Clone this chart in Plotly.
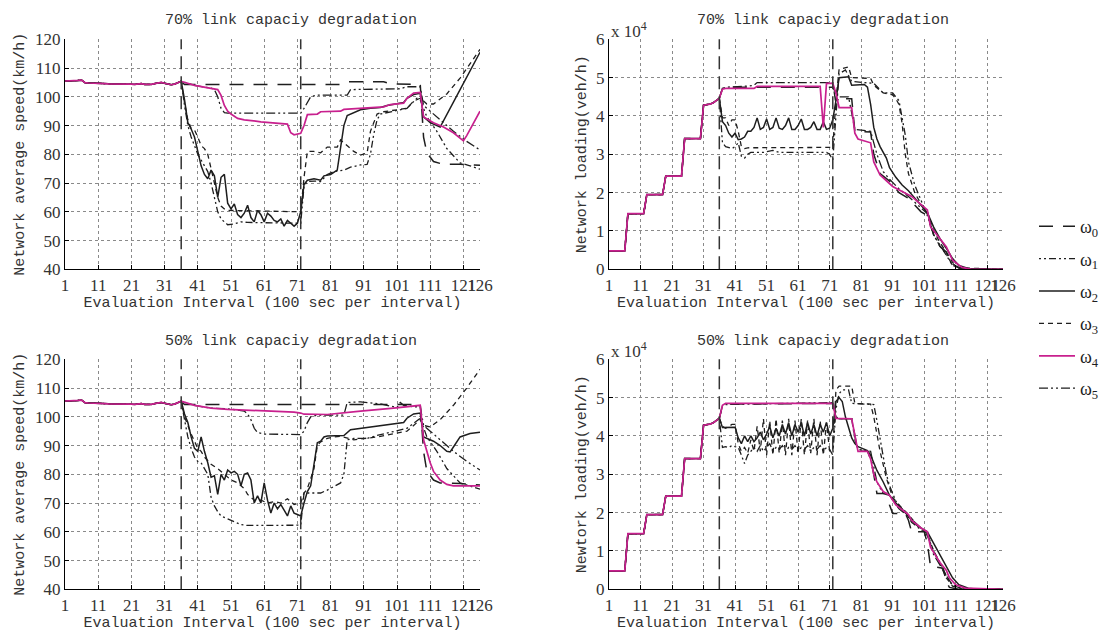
import plotly.graph_objects as go

W, H = 1110, 631
PAGE_OFFSET = 8  # the page body margin shifts the figure by this many pixels

# ---------------- data ----------------
PREFIX_X = [1, 2, 3, 4, 5, 6, 7, 8, 9, 10, 11, 12, 13, 14, 15, 16, 17, 18, 19, 20,
            21, 22, 23, 24, 25, 26, 27, 28, 29, 30, 31, 32, 33, 34, 35]
SPEED_PREFIX = [105.5, 105.5, 105.6, 105.6, 105.7, 105.8, 104.9, 104.8, 104.8, 104.7,
                104.7, 104.6, 104.6, 104.5, 104.5, 104.6, 104.5, 104.4, 104.4, 104.5,
                104.4, 104.3, 104.5, 104.6, 104.3, 104.2, 104.3, 104.6, 104.9, 105.0,
                104.7, 104.4, 104.2, 104.4, 104.9]
LOAD_PREFIX = [0.48, 0.48, 0.48, 0.48, 0.48, 0.48, 1.45, 1.45, 1.45, 1.45,
               1.45, 1.45, 1.95, 1.95, 1.95, 1.95, 1.95, 1.95, 2.43, 2.43,
               2.43, 2.43, 2.43, 2.43, 3.41, 3.41, 3.41, 3.41, 3.41, 3.41,
               4.28, 4.29, 4.31, 4.34, 4.40]

# --- top-left: speed, 70% degradation ---
TL_W0_X = [36, 37, 84, 86, 97, 99, 108, 109, 110, 112, 115, 120, 126]
TL_W0_Y = [105.4, 104.3, 104.3, 105.2, 105.2, 104.5, 104.3, 86, 80.5, 77.5, 76.5, 76.5, 76.2]
TL_W1_X = [36, 37, 38, 39, 40, 41, 42, 43, 44, 45, 46, 47, 48, 49, 50, 52, 54, 56, 60, 65, 70, 72,
           73, 74, 76, 78, 80, 82, 85, 87, 90, 92, 93, 94, 95, 96, 100, 104, 107, 108,
           110, 113, 116, 120, 123, 126]
TL_W1_Y = [105.4, 97, 90, 86, 83, 80, 78, 76, 74, 70, 65, 60, 57.5, 56.5, 55.5, 55.8, 56.5, 56.3, 56.2, 56.1, 56, 56,
           69, 70.5, 70.7, 70.5, 73, 74, 74.5, 75.5, 76.3, 76.5, 80, 87, 92, 94, 95, 96, 99.5, 99,
           93, 88, 82, 77, 76, 74.8]
TL_W2_X = [36, 37, 38, 39, 40, 41, 42, 43, 44, 45, 46, 47, 48, 49, 50, 51, 52, 53, 54, 55,
           56, 57, 58, 59, 60, 61, 62, 63, 64, 65, 66, 67, 68, 69, 70, 71, 72,
           73, 74, 76, 78, 79, 81, 83, 84, 85, 86, 88, 90, 93, 96, 98, 100, 103, 104, 106, 108,
           109, 111, 114, 120, 126]
TL_W2_Y = [105.5, 99, 91, 88.8, 86, 81, 76, 73, 71.5, 74.5, 72.5, 65, 72, 73, 63, 61, 62.7, 59, 58, 59.5,
           62.3, 58, 56.5, 60.5, 59, 56.5, 59.5, 58.5, 57, 56.5, 57.5, 55, 57, 56, 55, 56, 60,
           69.5, 71, 71.5, 71, 72.5, 73, 74.5, 82, 90, 93.5, 94.5, 95.5, 96, 96.3, 97, 97.5, 98, 99.5, 100.8, 101.2,
           93, 91, 89.5, 102.5, 115.5]
TL_W3_X = [36, 37, 38, 39, 40, 41, 42, 43, 44, 45, 46, 47, 48, 49, 50, 72,
           73, 74, 76, 78, 80, 83, 84, 86, 88, 90, 92, 93, 95, 97, 101, 104, 106, 108, 110, 112,
           116, 120, 126]
TL_W3_Y = [105.4, 98, 92, 89, 88.5, 86, 83, 82, 80, 75, 70, 65, 62, 61, 60.5, 60,
           72, 81, 81, 80.5, 82.5, 82.5, 85, 83, 81, 79.7, 80.5, 88, 94, 94.8, 95.5, 96, 98.5, 99.5, 97.5, 97.5,
           101, 106.5, 116.5]
TL_W4_X = [36, 40, 45, 47, 48, 49, 50, 51, 53, 55, 60, 65, 68, 69, 70, 72, 73, 74, 77, 78,
           84, 85, 92, 95, 97, 99, 103, 104, 106, 108, 109, 112, 115, 118, 121, 122, 124, 126]
TL_W4_Y = [105.4, 104, 103, 102.5, 100.5, 97, 95, 94, 92.5, 92, 91.3, 90.8, 90.5, 87.5, 86.8, 87.3, 90, 93.8, 94, 94.8,
           95, 95.6, 96, 96.3, 96.5, 97.3, 97.8, 99.5, 101.3, 101.5, 93, 91, 89.5, 87.5, 84.7, 86.5, 91, 95]
TL_W5_X = [36, 40, 45, 46, 47, 48, 49, 50, 72, 73, 74, 75, 77, 86, 87, 102, 104, 108,
           109, 111, 114, 118, 122, 126]
TL_W5_Y = [105.4, 104, 103, 102.5, 100, 96, 94.5, 94.3, 94.3, 96, 98, 100, 100.6, 100.6, 102.5, 102.8, 103.5, 103.5,
           97, 95, 92, 88, 84.5, 81.5]

# --- bottom-left: speed, 50% degradation ---
BL_W0_X = [36, 37, 108, 109, 110, 112, 114, 120, 126]
BL_W0_Y = [105.4, 104.3, 104.3, 88, 81, 78, 77, 76.8, 76.3]
BL_W1_X = [36, 37, 38, 39, 40, 41, 42, 43, 44, 45, 46, 47, 48, 50, 52, 54, 56, 72,
           73, 74, 76, 78, 80, 82, 84, 85, 86, 88, 92, 95, 100, 104, 108, 109,
           110, 113, 116, 120, 123, 126]
BL_W1_Y = [105.4, 99, 93, 89, 86, 84.5, 84, 82, 80, 72, 69, 67, 65.5, 64.5, 63.5, 62.5, 62.2, 62.3,
           73.5, 73.5, 73.5, 73.5, 74.5, 75.7, 77, 80, 92, 92.5, 92.5, 93.5, 95, 96, 99.5, 96,
           93, 88, 82, 77, 76, 74.8]
BL_W2_X = [36, 37, 38, 39, 40, 41, 42, 43, 44, 45, 46, 47, 48, 49, 50, 51, 52, 53, 54, 55,
           56, 57, 58, 59, 60, 61, 62, 63, 64, 65, 66, 67, 68, 69, 70, 71, 72, 73, 74, 75,
           76, 77, 78, 79, 80, 85, 87, 90, 95, 100, 103, 104, 106, 108,
           109, 112, 114, 116, 117, 118, 120, 123, 126]
BL_W2_Y = [105.5, 101, 98, 93, 89, 88, 93, 88, 84, 79, 79.5, 73, 80, 78, 81.5, 80.5, 81, 80, 76, 80,
           80.5, 78, 70, 72.5, 70, 77, 71, 66.5, 70, 68, 69.5, 67.5, 65.5, 69, 66.5, 66, 65.5, 70, 74, 76,
           83, 91, 91.5, 93, 93.3, 93.5, 95.5, 96, 96.8, 97.5, 98, 99.5, 101, 101.3,
           93, 91.5, 90, 88, 87.8, 89.5, 93, 94.2, 94.6]
BL_W3_X = [36, 37, 39, 41, 42, 43, 45, 47, 49, 51, 53, 55, 56, 58, 60, 62, 64, 66, 68, 70,
           72, 73, 74, 76, 77, 78, 80, 82, 84, 86, 88, 95, 100, 104, 106, 108, 109, 111, 114, 118,
           122, 126]
BL_W3_Y = [105.4, 100, 94, 89, 88, 86, 83.5, 82, 80, 78, 77, 75, 73, 71, 71, 70, 70.5, 70, 71.5, 69.5,
           70, 73.5, 75, 82, 90, 91.3, 92.5, 93, 93.2, 92.5, 92, 93, 94.2, 95, 97, 99, 97, 96.5, 99, 104,
           110, 116.5]
BL_W4_X = [36, 40, 45, 50, 60, 70, 72, 73, 80, 85, 90, 100, 105, 108, 109, 110, 111, 112, 114, 116, 118, 126]
BL_W4_Y = [105.4, 104, 103, 102.6, 102.2, 101.6, 101.3, 100.9, 100.8, 101.5, 102, 103, 103.5, 104,
           92, 87.5, 84, 81, 78, 76.5, 76, 76]
BL_W5_X = [36, 40, 45, 50, 55, 56, 57, 58, 59, 61, 72, 73, 74, 75, 77, 85, 86, 90, 96, 101, 102, 103, 106, 108,
           109, 111, 114, 118, 122, 126]
BL_W5_Y = [105.4, 104, 103, 102.8, 102, 101, 99, 96, 94.5, 94, 93.8, 95, 98, 100, 100.6, 100.6, 105, 105.2, 104.5,
           103.2, 105, 104, 103.5, 103.5, 97, 95, 92, 88, 84.5, 81.5]

# --- top-right: loading (x 10^4 veh/h), 70% degradation ---
TR_W0_X = [36, 37, 38, 72, 73, 74, 78, 79, 84, 85, 87, 90, 93, 96, 100, 102, 104, 106, 108, 110, 112, 115, 126]
TR_W0_Y = [4.46, 4.72, 4.75, 4.75, 4.6, 4.45, 4.45, 3.6, 3.58, 3.0, 2.5, 2.3, 2.0, 1.85, 1.5, 1.4, 0.9, 0.6,
           0.45, 0.15, 0.03, 0, 0]
TR_W1_X = [36, 37, 38, 40, 41, 42, 43, 44, 45, 46, 50, 53, 55, 60, 65, 70, 71, 72, 73, 74,
           76, 78, 85, 88, 91, 93, 95, 96, 98, 100, 102, 104, 106, 108, 110, 113, 126]
TR_W1_Y = [4.46, 3.3, 3.2, 3.15, 3.2, 3.3, 2.95, 2.9, 3.0, 3.05, 3.05, 3.1, 3.05, 3.05, 3.05, 3.05, 3.0, 2.85, 4.0, 5.1,
           5.2, 4.9, 4.85, 4.6, 4.6, 4.4, 3.5, 2.8, 2.2, 1.8, 1.4, 0.9, 0.6, 0.4, 0.1, 0.02, 0]
TR_W2_X = [36, 37, 38, 39, 40, 41, 42, 43, 44, 45, 46, 47, 48, 49, 50, 51, 52, 53, 54, 55,
           56, 57, 58, 59, 60, 61, 62, 63, 64, 65, 66, 67, 68, 69, 70, 71, 72,
           73, 74, 77, 78, 82, 83, 84, 85, 86, 87, 89, 90, 92, 94, 96, 98, 100, 102, 104, 106,
           108, 110, 112, 115, 126]
TR_W2_Y = [4.46, 3.85, 3.75, 3.55, 3.45, 3.55, 3.38, 3.4, 3.45, 3.6, 3.6, 3.7, 3.95, 3.65, 3.7, 3.92, 3.65, 3.7, 3.95, 3.68,
           3.65, 3.75, 3.95, 3.65, 3.65, 3.75, 3.92, 3.65, 3.65, 3.7, 3.85, 3.65, 3.65, 3.85, 3.65, 3.68, 3.9,
           4.4, 5.0, 5.02, 4.8, 4.82, 4.75, 4.3, 3.7, 3.4, 3.2, 2.9, 2.65, 2.4, 2.2, 2.05, 1.85, 1.65, 1.48, 1.1, 0.8,
           0.55, 0.28, 0.1, 0.02, 0]
TR_W3_X = [36, 37, 38, 39, 40, 41, 42, 43, 44, 45, 72, 73, 74, 77, 78, 84, 85, 88, 91, 92,
           93, 94, 95, 96, 98, 100, 102, 104, 106, 108, 110, 112, 126]
TR_W3_Y = [4.46, 3.95, 3.95, 3.75, 3.9, 3.9, 3.6, 3.2, 3.15, 3.17, 3.18, 4.4, 5.22, 5.28, 5.0, 4.98, 4.8, 4.6, 4.55, 4.45,
           4.3, 3.8, 3.0, 2.5, 2.0, 1.7, 1.5, 1.0, 0.7, 0.45, 0.18, 0.04, 0]
TR_W4_X = [36, 37, 38, 47, 48, 68, 69, 70, 72, 73, 74, 78, 79, 80, 84, 85, 87, 91, 97, 102, 103, 108, 110, 113, 116, 126]
TR_W4_Y = [4.46, 4.7, 4.72, 4.72, 4.77, 4.77, 3.7, 4.85, 4.85, 4.6, 4.22, 4.22, 3.55, 3.4, 3.3, 2.8, 2.46, 2.16, 1.9,
           1.55, 1.11, 0.59, 0.24, 0.05, 0, 0]
TR_W5_X = [36, 37, 38, 45, 47, 48, 72, 73, 74, 77, 79, 84, 86, 88, 90, 93, 96, 100, 102, 104, 107, 110, 113, 126]
TR_W5_Y = [4.46, 4.72, 4.75, 4.78, 4.8, 4.87, 4.87, 4.3, 4.5, 4.5, 3.65, 3.6, 3.0, 2.55, 2.35, 2.1, 1.9, 1.6, 1.45,
           0.9, 0.5, 0.1, 0.02, 0]

# --- bottom-right: loading (x 10^4 veh/h), 50% degradation ---
BR_W0_X = [36, 37, 38, 72, 73, 74, 78, 79, 80, 83, 84, 85, 86, 89, 90, 91, 95, 96, 97, 101, 102, 103, 107, 108, 109, 112, 126]
BR_W0_Y = [4.46, 4.8, 4.83, 4.85, 4.5, 4.45, 4.45, 4.0, 3.6, 3.6, 3.4, 3.0, 2.5, 2.5, 2.2, 1.98, 1.98, 1.8, 1.5, 1.5,
           1.2, 0.6, 0.55, 0.2, 0.05, 0, 0]
BR_W1_X = [36, 37, 38, 39, 40, 41, 42, 43, 44, 45, 46, 47, 48, 49, 50, 51, 52, 53, 54, 55,
           56, 57, 58, 59, 60, 61, 62, 63, 64, 65, 66, 67, 68, 69, 70, 71, 72,
           73, 74, 75, 77, 78, 85, 86, 88, 89, 90, 92, 95, 97, 100, 102, 104, 106, 108, 110, 113, 126]
BR_W1_Y = [4.46, 3.7, 3.72, 3.7, 3.75, 3.72, 3.7, 3.5, 3.28, 3.5, 3.6, 3.7, 3.6, 3.75, 3.6, 3.7, 3.8, 3.6, 3.7, 3.65,
           3.75, 3.6, 3.7, 3.65, 3.75, 3.6, 3.7, 3.65, 3.75, 3.6, 3.7, 3.65, 3.75, 3.6, 3.7, 3.65, 3.5,
           4.7, 5.1, 5.2, 5.2, 4.85, 4.82, 4.4, 3.5, 3.0, 2.7, 2.3, 2.0, 1.75, 1.55, 1.4, 1.0, 0.7, 0.35, 0.1, 0.02, 0]
BR_W2_X = [36, 37, 38, 39, 40, 41, 42, 43, 44, 45, 46, 47, 48, 49, 50, 51, 52, 53, 54, 55,
           56, 57, 58, 59, 60, 61, 62, 63, 64, 65, 66, 67, 68, 69, 70, 71, 72,
           73, 74, 75, 76, 77, 78, 79, 80, 83, 84, 86, 88, 90, 92, 95, 97, 99, 102, 104, 106,
           108, 110, 112, 115, 118, 126]
BR_W2_Y = [4.46, 4.22, 4.22, 4.22, 4.22, 4.23, 3.95, 3.8, 4.0, 3.85, 4.0, 3.85, 3.95, 4.1, 3.9, 4.05, 4.25, 3.95, 4.2, 4.0,
           4.3, 4.05, 4.35, 4.0, 4.3, 4.1, 4.35, 4.0, 4.35, 4.05, 4.3, 4.0, 4.3, 4.1, 4.35, 4.0, 4.2,
           4.9, 5.0, 4.9, 4.5, 4.2, 3.95, 3.8, 3.72, 3.62, 3.5, 3.1, 2.8, 2.45, 2.25, 2.0, 1.8, 1.65, 1.5, 1.2, 0.9,
           0.6, 0.3, 0.12, 0.03, 0, 0]
BR_W3_X = [36, 37, 38, 39, 40, 41, 42, 43, 44, 45, 46, 47, 48, 49, 50, 51, 52, 53, 54, 55,
           56, 57, 58, 59, 60, 61, 62, 63, 64, 65, 66, 67, 68, 69, 70, 71, 72,
           73, 74, 78, 79, 84, 85, 87, 89, 91, 93, 96, 99, 102, 104, 106, 108, 110, 113, 126]
BR_W3_Y = [4.46, 4.25, 4.2, 4.25, 4.3, 4.3, 3.8, 3.6, 3.7, 3.55, 3.9, 3.6, 4.25, 3.6, 4.45, 3.5, 4.4, 3.5, 4.45, 3.55,
           4.4, 3.5, 4.45, 3.5, 4.4, 3.55, 4.45, 3.5, 4.4, 3.55, 4.45, 3.5, 4.4, 3.5, 4.35, 3.6, 3.6,
           5.2, 5.3, 5.3, 4.85, 4.83, 4.5, 3.6, 2.9, 2.4, 2.2, 1.95, 1.65, 1.45, 1.0, 0.65, 0.3, 0.08, 0.01, 0]
BR_W4_X = [36, 37, 38, 72, 73, 78, 79, 80, 83, 84, 85, 86, 88, 90, 92, 95, 96, 97, 100, 102, 103, 106, 108, 109, 111, 114, 126]
BR_W4_Y = [4.46, 4.8, 4.85, 4.85, 4.46, 4.45, 4.0, 3.6, 3.6, 3.4, 3.0, 2.8, 2.55, 2.45, 2.2, 2.0, 1.95, 1.8, 1.6, 1.5,
           1.1, 0.7, 0.5, 0.3, 0.12, 0.03, 0]
BR_W5_X = [36, 37, 38, 72, 73, 74, 78, 79, 80, 84, 85, 86, 88, 90, 93, 96, 100, 102, 104, 107, 110, 113, 126]
BR_W5_Y = [4.46, 4.78, 4.82, 4.87, 4.5, 4.45, 4.45, 3.9, 3.65, 3.6, 3.2, 2.8, 2.5, 2.45, 2.1, 1.9, 1.6, 1.45, 0.9,
           0.5, 0.1, 0.02, 0]

SERIES_NAMES = ["ω0", "ω1", "ω2", "ω3", "ω4", "ω5"]
X_TICKS = [1, 11, 21, 31, 41, 51, 61, 71, 81, 91, 101, 111, 121, 126]
EVENT_START, EVENT_END = 36, 72
TITLES = ["70% link capaciy degradation", "70% link capaciy degradation",
          "50% link capaciy degradation", "50% link capaciy degradation"]
Y_TITLES = ["Network average speed(km/h)", "Network loading(veh/h)",
            "Network average speed(km/h)", "Newtork loading(veh/h)"]
X_TITLE = "Evaluation Interval (100 sec per interval)"

# ---------------- styling ----------------
MAGENTA = "#C8208E"
INK = "#1e1e1e"
STYLES = {
    "ω0": dict(color=INK, dash="14px,10px", width=1.5),
    "ω1": dict(color=INK, dash="2px,3px,2px,3px,7px,3px", width=1.3),
    "ω2": dict(color=INK, dash="solid", width=1.5),
    "ω3": dict(color=INK, dash="5px,4px", width=1.3),
    "ω4": dict(color=MAGENTA, dash="solid", width=1.7),
    "ω5": dict(color=INK, dash="9px,3px,2px,3px,2px,3px", width=1.3),
}
MONO = "Liberation Mono"
SERIF = "Liberation Serif"
TXT = "#333333"


def px_x(p):
    return (p - PAGE_OFFSET) / W


def px_y(p):
    return 1 - (p - PAGE_OFFSET) / H


LEFT_DOM = [px_x(65), px_x(480)]
RIGHT_DOM = [px_x(609), px_x(1003)]
TOP_DOM = [px_y(269.3), px_y(39.3)]
BOT_DOM = [px_y(589.3), px_y(359.3)]

panels = [
    dict(xa="x", ya="y", prefix=SPEED_PREFIX,
         data=[(TL_W0_X, TL_W0_Y), (TL_W1_X, TL_W1_Y), (TL_W2_X, TL_W2_Y),
               (TL_W3_X, TL_W3_Y), (TL_W4_X, TL_W4_Y), (TL_W5_X, TL_W5_Y)]),
    dict(xa="x2", ya="y2", prefix=LOAD_PREFIX,
         data=[(TR_W0_X, TR_W0_Y), (TR_W1_X, TR_W1_Y), (TR_W2_X, TR_W2_Y),
               (TR_W3_X, TR_W3_Y), (TR_W4_X, TR_W4_Y), (TR_W5_X, TR_W5_Y)]),
    dict(xa="x3", ya="y3", prefix=SPEED_PREFIX,
         data=[(BL_W0_X, BL_W0_Y), (BL_W1_X, BL_W1_Y), (BL_W2_X, BL_W2_Y),
               (BL_W3_X, BL_W3_Y), (BL_W4_X, BL_W4_Y), (BL_W5_X, BL_W5_Y)]),
    dict(xa="x4", ya="y4", prefix=LOAD_PREFIX,
         data=[(BR_W0_X, BR_W0_Y), (BR_W1_X, BR_W1_Y), (BR_W2_X, BR_W2_Y),
               (BR_W3_X, BR_W3_Y), (BR_W4_X, BR_W4_Y), (BR_W5_X, BR_W5_Y)]),
]

fig = go.Figure()
draw_order = [0, 1, 2, 3, 5, 4]
for pi, p in enumerate(panels):
    for si in draw_order:
        name = SERIES_NAMES[si]
        tx, ty = p["data"][si]
        fig.add_trace(go.Scatter(
            x=PREFIX_X + tx, y=p["prefix"] + ty,
            xaxis=p["xa"], yaxis=p["ya"], mode="lines",
            name=f"ω<sub>{si}</sub>", legendgroup=name, legendrank=si,
            showlegend=(pi == 0), line=STYLES[name], hoverinfo="skip",
        ))

axis_common = dict(
    showline=True, linecolor="#000", linewidth=1, mirror=False,
    ticks="inside", ticklen=4, tickcolor="#000", tickwidth=1,
    showgrid=True, gridcolor="#8a8a8a", griddash="dot", gridwidth=1,
    zeroline=False, automargin=False,
    tickfont=dict(family=SERIF, size=17, color=TXT),
)


def xaxis(dom, anchor):
    d = dict(axis_common)
    d.update(domain=dom, anchor=anchor, range=[1, 126], tickmode="array", tickvals=X_TICKS,
             ticktext=[str(t) for t in X_TICKS], tickangle=0)
    d["title"] = dict(text=X_TITLE, font=dict(family=MONO, size=15, color=TXT), standoff=2)
    return d


def yaxis(dom, anchor, rng, dtick, title, standoff):
    d = dict(axis_common)
    d.update(domain=dom, anchor=anchor, range=rng, dtick=dtick, tick0=rng[0])
    d["title"] = dict(text=title, font=dict(family=MONO, size=15, color=TXT), standoff=standoff)
    return d


fig.update_layout(
    width=W, height=H, margin=dict(l=0, r=0, t=0, b=0),
    paper_bgcolor="white", plot_bgcolor="white",
    xaxis=xaxis(LEFT_DOM, "y"),
    xaxis2=xaxis(RIGHT_DOM, "y2"),
    xaxis3=xaxis(LEFT_DOM, "y3"),
    xaxis4=xaxis(RIGHT_DOM, "y4"),
    yaxis=yaxis(TOP_DOM, "x", [40, 120], 10, Y_TITLES[0], 6),
    yaxis2=yaxis(TOP_DOM, "x2", [0, 6], 1, Y_TITLES[1], 5),
    yaxis3=yaxis(BOT_DOM, "x3", [40, 120], 10, Y_TITLES[2], 6),
    yaxis4=yaxis(BOT_DOM, "x4", [0, 6], 1, Y_TITLES[3], 5),
    legend=dict(x=px_x(1034), y=px_y(208), xanchor="left", yanchor="top",
                font=dict(family=SERIF, size=18, color=INK), bgcolor="rgba(0,0,0,0)",
                tracegroupgap=6, itemwidth=36, borderwidth=0),
    showlegend=True,
)

# event markers (vertical dashed lines) on each panel
for p in panels:
    for xv in (EVENT_START, EVENT_END):
        fig.add_shape(type="line", xref=p["xa"], yref=f"{p['ya']} domain",
                      x0=xv, x1=xv, y0=0, y1=1,
                      line=dict(color="#333", width=1.5, dash="13px,7px"))

# panel titles
title_pos = [(291, 20), (823, 20), (291, 341), (823, 341)]
for t, (tx, ty) in zip(TITLES, title_pos):
    fig.add_annotation(text=t, x=px_x(tx), y=px_y(ty), xref="paper", yref="paper",
                       showarrow=False, xanchor="center", yanchor="middle",
                       font=dict(family=MONO, size=15, color=TXT))

# exponent labels
for ty in (30, 350):
    fig.add_annotation(text="x 10<sup>4</sup>", x=px_x(609), y=px_y(ty), xref="paper", yref="paper",
                       showarrow=False, xanchor="left", yanchor="middle",
                       font=dict(family=SERIF, size=17, color=TXT))

fig.write_html("out.html")
